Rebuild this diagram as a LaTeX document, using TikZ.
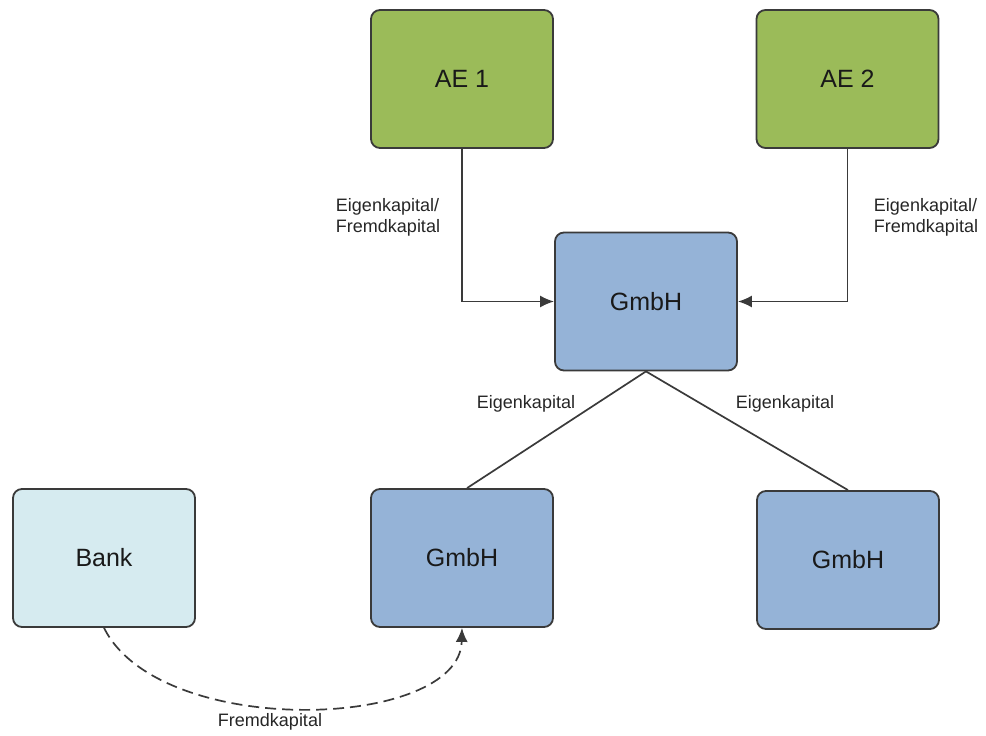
\documentclass[tikz,border=0pt]{standalone}
\usepackage{fontspec}
\setsansfont{Liberation Sans}
\usetikzlibrary{arrows.meta}
\definecolor{aegreen}{HTML}{9BBB59}
\definecolor{gmbhblue}{HTML}{95B3D7}
\definecolor{banklight}{HTML}{D6EBF0}
\definecolor{edgegray}{HTML}{3A3A3A}
\tikzset{%
  >={Latex[width=12pt,length=14pt]},
  % Specifications for style of nodes:
            base/.style = {rectangle, rounded corners=9pt, draw=edgegray, line width=1.8pt,
                           minimum width=182pt, minimum height=138pt,
                           text centered, font=\sffamily\fontsize{25}{30}\selectfont,
                           text=black!90},
  owner/.style = {base, fill=aegreen},
       company/.style = {base, fill=gmbhblue},
    lender/.style = {base, fill=banklight},
         flow/.style = {font=\sffamily\fontsize{18}{21}\selectfont, text=black!85,
                        align=left, inner sep=0pt},
}
\begin{document}
\begin{tikzpicture}[x=1pt, y=-1pt, line width=1.7pt]
\useasboundingbox (0,0) rectangle (986,736);
% Specification of nodes (position, etc.)
\node (ae1)       [owner]   at (462,79)    {AE 1};
\node (ae2)       [owner]   at (847.5,79)  {AE 2};
\node (gmbh)      [company] at (646,301.5) {GmbH};
\node (bank)      [lender]  at (104,558)   {Bank};
\node (gmbhleft)  [company] at (462,558)   {GmbH};
\node (gmbhright) [company] at (848,560)   {GmbH};
% Specification of lines between nodes specified above
% with aditional nodes for description
\draw[->, edgegray] (ae1.south) |- (gmbh.west);
\draw[->, edgegray] (ae2.south) |- (gmbh.east);
\draw[edgegray] (gmbh.south) -- ([xshift=5pt]gmbhleft.north);
\draw[edgegray] (gmbh.south) -- (gmbhright.north);
\draw[->, dash pattern=on 11pt off 6pt, edgegray] (bank.south)
   .. controls (160,740) and (460,730) .. (gmbhleft.south);
\node (labelae1)  [flow] at (388,217) {Eigenkapital/\\Fremdkapital};
\node (labelae2)  [flow] at (926,217) {Eigenkapital/\\Fremdkapital};
\node (labelleft) [flow] at (526,404) {Eigenkapital};
\node (labelright)[flow] at (785,404) {Eigenkapital};
\node (labelbank) [flow] at (270,722) {Fremdkapital};
\end{tikzpicture}
\end{document}
